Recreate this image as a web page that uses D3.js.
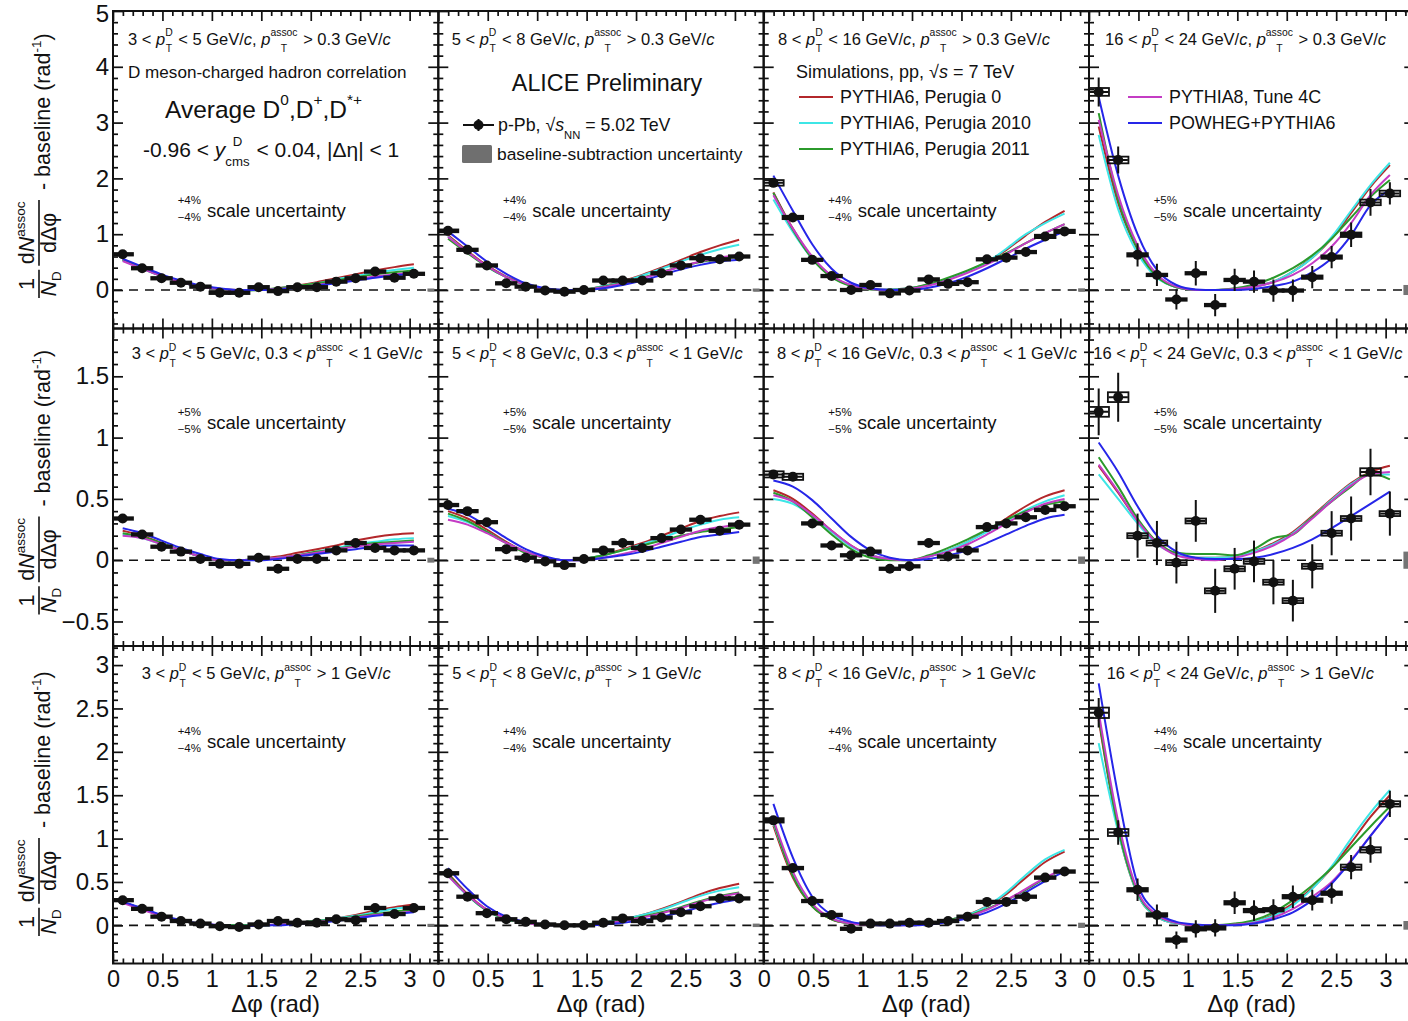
<!DOCTYPE html>
<html>
<head>
<meta charset="utf-8">
<script src="https://cdn.jsdelivr.net/npm/d3@7"></script>
<style>
  body { margin: 0; background: #fff; }
  svg { display: block; }
  text { white-space: pre; }
</style>
</head>
<body>
<svg id="chart" width="1408" height="1021"></svg>
<script>
// ---------------------------------------------------------------------------
// D meson - charged hadron azimuthal correlations, p-Pb 5.02 TeV,
// compared with pp MC simulations. Panels are ordered row by row:
// rows = associated-pT range, columns = D-meson pT range.
// ---------------------------------------------------------------------------

// Δφ bin centres (rad)
const dphi = [0.098, 0.295, 0.491, 0.687, 0.884, 1.080, 1.276, 1.473,
              1.669, 1.865, 2.062, 2.258, 2.454, 2.651, 2.847, 3.043];
const binHalf = 0.098;

const ptDBins = [["3", "5"], ["5", "8"], ["8", "16"], ["16", "24"]];
const scalePct = [4, 4, 4, 5,  5, 5, 5, 5,  4, 4, 4, 4];

// measured per-trigger yields after baseline subtraction
const measured = [
  [0.64, 0.39, 0.21, 0.13, 0.06, -0.05, -0.05, 0.05, -0.02, 0.05, 0.05, 0.15, 0.21, 0.33, 0.22, 0.29],
  [1.06, 0.72, 0.44, 0.12, 0.06, -0.01, -0.03, 0.00, 0.17, 0.17, 0.17, 0.30, 0.44, 0.57, 0.55, 0.60],
  [1.92, 1.30, 0.54, 0.25, 0.00, 0.09, -0.06, -0.01, 0.19, 0.11, 0.14, 0.55, 0.58, 0.68, 0.96, 1.05],
  [3.55, 2.33, 0.63, 0.27, -0.17, 0.30, -0.27, 0.18, 0.15, -0.01, -0.01, 0.23, 0.59, 0.99, 1.57, 1.73],
  [0.34, 0.21, 0.11, 0.07, 0.01, -0.03, -0.03, 0.02, -0.07, 0.01, 0.01, 0.08, 0.14, 0.10, 0.08, 0.08],
  [0.45, 0.40, 0.31, 0.09, 0.02, -0.01, -0.04, 0.01, 0.08, 0.14, 0.10, 0.18, 0.25, 0.33, 0.24, 0.29],
  [0.70, 0.68, 0.30, 0.12, 0.04, 0.07, -0.07, -0.05, 0.14, 0.03, 0.08, 0.27, 0.30, 0.35, 0.41, 0.44],
  [1.21, 1.33, 0.20, 0.14, -0.02, 0.32, -0.25, -0.07, -0.01, -0.18, -0.33, -0.05, 0.22, 0.34, 0.72, 0.38],
  [0.29, 0.19, 0.10, 0.05, 0.02, -0.01, -0.02, 0.01, 0.05, 0.03, 0.03, 0.07, 0.06, 0.20, 0.13, 0.20],
  [0.60, 0.33, 0.14, 0.07, 0.04, 0.01, 0.00, 0.00, 0.03, 0.08, 0.05, 0.09, 0.15, 0.22, 0.31, 0.31],
  [1.21, 0.66, 0.28, 0.12, -0.04, 0.02, 0.02, 0.03, 0.03, 0.05, 0.10, 0.27, 0.27, 0.33, 0.55, 0.62],
  [2.45, 1.07, 0.41, 0.12, -0.17, -0.04, -0.03, 0.26, 0.17, 0.18, 0.33, 0.29, 0.37, 0.67, 0.87, 1.40]
];

// statistical uncertainties
const statErr = [
  [0.03, 0.03, 0.03, 0.03, 0.03, 0.03, 0.03, 0.03, 0.03, 0.03, 0.03, 0.03, 0.03, 0.03, 0.03, 0.03],
  [0.04, 0.04, 0.04, 0.04, 0.04, 0.04, 0.04, 0.04, 0.04, 0.04, 0.04, 0.04, 0.04, 0.04, 0.04, 0.04],
  [0.07, 0.06, 0.06, 0.06, 0.06, 0.06, 0.06, 0.06, 0.06, 0.06, 0.06, 0.06, 0.06, 0.06, 0.06, 0.06],
  [0.26, 0.24, 0.21, 0.20, 0.18, 0.22, 0.20, 0.20, 0.20, 0.20, 0.20, 0.20, 0.20, 0.22, 0.24, 0.20],
  [0.02, 0.02, 0.02, 0.02, 0.02, 0.02, 0.02, 0.02, 0.02, 0.02, 0.02, 0.02, 0.02, 0.02, 0.02, 0.02],
  [0.02, 0.02, 0.02, 0.02, 0.02, 0.02, 0.02, 0.02, 0.02, 0.02, 0.02, 0.02, 0.02, 0.02, 0.02, 0.02],
  [0.03, 0.03, 0.03, 0.03, 0.03, 0.03, 0.03, 0.03, 0.03, 0.03, 0.03, 0.03, 0.03, 0.03, 0.03, 0.03],
  [0.19, 0.20, 0.18, 0.18, 0.17, 0.17, 0.18, 0.17, 0.17, 0.18, 0.17, 0.18, 0.18, 0.18, 0.19, 0.18],
  [0.02, 0.02, 0.02, 0.02, 0.02, 0.02, 0.02, 0.02, 0.02, 0.02, 0.02, 0.02, 0.02, 0.02, 0.02, 0.02],
  [0.02, 0.02, 0.02, 0.02, 0.02, 0.02, 0.02, 0.02, 0.02, 0.02, 0.02, 0.02, 0.02, 0.02, 0.02, 0.02],
  [0.04, 0.04, 0.04, 0.04, 0.04, 0.04, 0.04, 0.04, 0.04, 0.04, 0.04, 0.04, 0.04, 0.04, 0.04, 0.04],
  [0.17, 0.14, 0.13, 0.12, 0.10, 0.10, 0.10, 0.13, 0.12, 0.12, 0.13, 0.12, 0.12, 0.14, 0.15, 0.15]
];

// systematic uncertainties (boxes)
const systErr = [
  [0.02, 0.015, 0.01, 0.01, 0.01, 0.01, 0.01, 0.01, 0.01, 0.01, 0.01, 0.01, 0.01, 0.01, 0.01, 0.01],
  [0.025, 0.02, 0.015, 0.01, 0.01, 0.01, 0.01, 0.01, 0.01, 0.01, 0.01, 0.01, 0.015, 0.015, 0.015, 0.015],
  [0.05, 0.03, 0.02, 0.01, 0.01, 0.01, 0.01, 0.01, 0.01, 0.01, 0.01, 0.02, 0.02, 0.02, 0.03, 0.03],
  [0.07, 0.06, 0.03, 0.02, 0.02, 0.02, 0.02, 0.02, 0.02, 0.02, 0.02, 0.03, 0.03, 0.04, 0.05, 0.05],
  [0.01, 0.01, 0.01, 0.01, 0.01, 0.01, 0.01, 0.01, 0.01, 0.01, 0.01, 0.01, 0.01, 0.01, 0.01, 0.01],
  [0.01, 0.01, 0.01, 0.01, 0.01, 0.01, 0.01, 0.01, 0.01, 0.01, 0.01, 0.01, 0.01, 0.01, 0.01, 0.01],
  [0.025, 0.025, 0.01, 0.01, 0.01, 0.01, 0.01, 0.01, 0.01, 0.01, 0.01, 0.01, 0.01, 0.01, 0.01, 0.01],
  [0.04, 0.04, 0.02, 0.02, 0.02, 0.02, 0.02, 0.02, 0.02, 0.02, 0.02, 0.02, 0.02, 0.02, 0.03, 0.02],
  [0.01, 0.01, 0.01, 0.01, 0.01, 0.01, 0.01, 0.01, 0.01, 0.01, 0.01, 0.01, 0.01, 0.01, 0.01, 0.01],
  [0.015, 0.01, 0.01, 0.01, 0.01, 0.01, 0.01, 0.01, 0.01, 0.01, 0.01, 0.01, 0.01, 0.01, 0.01, 0.01],
  [0.025, 0.015, 0.01, 0.01, 0.01, 0.01, 0.01, 0.01, 0.01, 0.01, 0.01, 0.01, 0.01, 0.01, 0.015, 0.015],
  [0.06, 0.04, 0.02, 0.02, 0.02, 0.02, 0.02, 0.02, 0.02, 0.02, 0.02, 0.02, 0.02, 0.03, 0.03, 0.03]
];

// baseline-subtraction uncertainty (half height of the grey box)
const baselineUnc = [0.02, 0.02, 0.03, 0.09,  0.02, 0.03, 0.03, 0.07,  0.01, 0.02, 0.03, 0.05];

// MC predictions (pp, 7 TeV), at the Δφ bin centres
const perugia0 = [
  [0.55, 0.40, 0.26, 0.15, 0.07, 0.02, 0.00, 0.00, 0.03, 0.08, 0.14, 0.21, 0.28, 0.35, 0.41, 0.46],
  [0.98, 0.70, 0.44, 0.24, 0.10, 0.02, 0.00, 0.01, 0.07, 0.16, 0.27, 0.40, 0.54, 0.68, 0.80, 0.90],
  [1.75, 1.10, 0.58, 0.25, 0.08, 0.02, 0.01, 0.03, 0.10, 0.20, 0.33, 0.50, 0.72, 0.98, 1.22, 1.42],
  [2.93, 1.55, 0.72, 0.24, 0.05, 0.00, 0.00, 0.02, 0.06, 0.15, 0.33, 0.58, 0.92, 1.38, 1.85, 2.24],
  [0.24, 0.20, 0.14, 0.08, 0.03, 0.00, 0.00, 0.01, 0.03, 0.06, 0.09, 0.12, 0.16, 0.19, 0.21, 0.22],
  [0.40, 0.34, 0.25, 0.15, 0.07, 0.02, 0.00, 0.01, 0.04, 0.09, 0.14, 0.20, 0.26, 0.32, 0.36, 0.39],
  [0.57, 0.50, 0.38, 0.24, 0.12, 0.04, 0.01, 0.00, 0.03, 0.08, 0.15, 0.24, 0.34, 0.44, 0.52, 0.57],
  [0.77, 0.55, 0.32, 0.14, 0.05, 0.02, 0.02, 0.03, 0.07, 0.14, 0.23, 0.36, 0.50, 0.63, 0.72, 0.77],
  [0.27, 0.19, 0.11, 0.05, 0.02, 0.00, 0.00, 0.00, 0.01, 0.03, 0.05, 0.08, 0.12, 0.17, 0.21, 0.24],
  [0.60, 0.36, 0.18, 0.08, 0.03, 0.00, 0.00, 0.01, 0.03, 0.07, 0.12, 0.19, 0.27, 0.36, 0.43, 0.48],
  [1.15, 0.55, 0.22, 0.07, 0.02, 0.00, 0.00, 0.01, 0.03, 0.06, 0.12, 0.22, 0.36, 0.55, 0.73, 0.85],
  [2.37, 1.10, 0.36, 0.10, 0.02, 0.00, 0.00, 0.01, 0.04, 0.12, 0.25, 0.43, 0.66, 0.95, 1.25, 1.50]
];
const perugia2010 = [
  [0.53, 0.38, 0.25, 0.14, 0.06, 0.02, 0.00, 0.00, 0.03, 0.07, 0.12, 0.19, 0.25, 0.31, 0.36, 0.40],
  [0.96, 0.68, 0.42, 0.23, 0.09, 0.02, 0.00, 0.01, 0.07, 0.15, 0.26, 0.38, 0.51, 0.63, 0.73, 0.81],
  [1.62, 1.04, 0.56, 0.24, 0.08, 0.02, 0.01, 0.03, 0.10, 0.20, 0.33, 0.50, 0.74, 1.00, 1.20, 1.37],
  [2.78, 1.45, 0.66, 0.22, 0.05, 0.00, 0.00, 0.02, 0.06, 0.15, 0.33, 0.58, 0.95, 1.42, 1.88, 2.28],
  [0.21, 0.18, 0.13, 0.08, 0.03, 0.00, 0.00, 0.01, 0.02, 0.04, 0.07, 0.10, 0.13, 0.15, 0.17, 0.18],
  [0.36, 0.31, 0.23, 0.14, 0.07, 0.02, 0.00, 0.01, 0.04, 0.08, 0.13, 0.18, 0.24, 0.29, 0.33, 0.35],
  [0.50, 0.46, 0.36, 0.23, 0.11, 0.04, 0.01, 0.00, 0.03, 0.08, 0.15, 0.23, 0.32, 0.41, 0.48, 0.53],
  [0.70, 0.50, 0.30, 0.13, 0.05, 0.02, 0.02, 0.03, 0.07, 0.13, 0.22, 0.35, 0.49, 0.62, 0.70, 0.70],
  [0.27, 0.19, 0.11, 0.05, 0.02, 0.00, 0.00, 0.00, 0.01, 0.03, 0.05, 0.08, 0.11, 0.15, 0.19, 0.21],
  [0.58, 0.34, 0.17, 0.07, 0.03, 0.00, 0.00, 0.01, 0.03, 0.07, 0.12, 0.18, 0.26, 0.34, 0.40, 0.44],
  [1.18, 0.58, 0.23, 0.08, 0.02, 0.00, 0.00, 0.01, 0.03, 0.06, 0.12, 0.22, 0.38, 0.58, 0.76, 0.87],
  [2.10, 1.08, 0.36, 0.10, 0.02, 0.00, 0.00, 0.01, 0.04, 0.11, 0.23, 0.42, 0.68, 1.00, 1.30, 1.56]
];
const perugia2011 = [
  [0.54, 0.39, 0.25, 0.14, 0.06, 0.01, -0.01, 0.00, 0.03, 0.07, 0.12, 0.17, 0.23, 0.28, 0.32, 0.35],
  [0.92, 0.66, 0.42, 0.23, 0.09, 0.02, 0.00, 0.01, 0.06, 0.13, 0.22, 0.32, 0.42, 0.50, 0.56, 0.60],
  [1.74, 1.08, 0.56, 0.23, 0.07, 0.01, 0.00, 0.03, 0.11, 0.22, 0.35, 0.50, 0.66, 0.84, 1.02, 1.18],
  [3.17, 1.62, 0.74, 0.24, 0.05, 0.00, 0.00, 0.03, 0.10, 0.22, 0.39, 0.62, 0.92, 1.30, 1.67, 1.97],
  [0.22, 0.19, 0.14, 0.08, 0.03, 0.00, 0.00, 0.01, 0.02, 0.04, 0.07, 0.09, 0.12, 0.14, 0.15, 0.16],
  [0.38, 0.32, 0.23, 0.14, 0.06, 0.02, 0.00, 0.01, 0.04, 0.08, 0.12, 0.16, 0.20, 0.23, 0.25, 0.27],
  [0.55, 0.48, 0.35, 0.21, 0.09, 0.02, 0.00, 0.00, 0.04, 0.10, 0.17, 0.25, 0.33, 0.40, 0.45, 0.48],
  [0.84, 0.60, 0.34, 0.15, 0.06, 0.05, 0.05, 0.04, 0.09, 0.18, 0.21, 0.35, 0.48, 0.60, 0.71, 0.66],
  [0.27, 0.19, 0.11, 0.05, 0.02, 0.00, 0.00, 0.00, 0.01, 0.03, 0.05, 0.07, 0.10, 0.13, 0.16, 0.18],
  [0.59, 0.35, 0.17, 0.07, 0.03, 0.00, 0.00, 0.01, 0.03, 0.06, 0.10, 0.15, 0.21, 0.28, 0.34, 0.38],
  [1.20, 0.57, 0.22, 0.07, 0.02, 0.00, 0.00, 0.01, 0.03, 0.06, 0.11, 0.19, 0.29, 0.41, 0.54, 0.65],
  [2.40, 1.12, 0.38, 0.11, 0.03, 0.00, 0.00, 0.02, 0.06, 0.15, 0.29, 0.46, 0.66, 0.90, 1.14, 1.37]
];
const pythia8Tune4C = [
  [0.52, 0.38, 0.25, 0.14, 0.06, 0.02, 0.00, 0.00, 0.02, 0.05, 0.09, 0.14, 0.19, 0.24, 0.28, 0.31],
  [0.95, 0.68, 0.43, 0.23, 0.09, 0.02, 0.00, 0.01, 0.05, 0.12, 0.21, 0.31, 0.42, 0.51, 0.58, 0.63],
  [1.70, 1.10, 0.60, 0.26, 0.09, 0.02, 0.00, 0.02, 0.08, 0.18, 0.31, 0.46, 0.64, 0.84, 1.02, 1.18],
  [3.05, 1.70, 0.80, 0.28, 0.06, 0.00, 0.00, 0.02, 0.06, 0.14, 0.27, 0.48, 0.78, 1.20, 1.70, 2.06],
  [0.20, 0.18, 0.13, 0.08, 0.03, 0.00, 0.00, 0.01, 0.02, 0.04, 0.06, 0.09, 0.11, 0.13, 0.14, 0.15],
  [0.33, 0.29, 0.22, 0.14, 0.07, 0.02, 0.00, 0.00, 0.02, 0.05, 0.09, 0.14, 0.19, 0.24, 0.27, 0.29],
  [0.53, 0.48, 0.37, 0.24, 0.12, 0.04, 0.01, 0.00, 0.03, 0.07, 0.13, 0.21, 0.30, 0.39, 0.46, 0.50],
  [0.78, 0.56, 0.32, 0.14, 0.04, 0.01, 0.00, 0.02, 0.06, 0.12, 0.21, 0.34, 0.48, 0.61, 0.70, 0.72],
  [0.26, 0.18, 0.11, 0.05, 0.02, 0.00, -0.01, 0.00, 0.01, 0.02, 0.04, 0.06, 0.09, 0.12, 0.14, 0.16],
  [0.57, 0.35, 0.18, 0.08, 0.03, 0.00, 0.00, 0.00, 0.02, 0.05, 0.09, 0.14, 0.20, 0.27, 0.33, 0.37],
  [1.22, 0.62, 0.25, 0.08, 0.02, 0.00, 0.00, 0.00, 0.02, 0.05, 0.10, 0.18, 0.29, 0.42, 0.55, 0.65],
  [2.46, 1.20, 0.40, 0.12, 0.03, 0.00, 0.00, 0.01, 0.03, 0.09, 0.19, 0.33, 0.50, 0.75, 1.03, 1.31]
];
const powhegPythia6 = [
  [0.56, 0.42, 0.28, 0.17, 0.08, 0.03, 0.00, 0.00, 0.01, 0.04, 0.08, 0.12, 0.17, 0.22, 0.26, 0.29],
  [1.05, 0.78, 0.51, 0.29, 0.12, 0.03, 0.00, 0.00, 0.03, 0.09, 0.17, 0.27, 0.37, 0.45, 0.51, 0.54],
  [2.05, 1.42, 0.82, 0.38, 0.13, 0.03, 0.00, 0.00, 0.04, 0.12, 0.24, 0.39, 0.56, 0.74, 0.90, 1.05],
  [3.46, 2.05, 1.00, 0.36, 0.09, 0.01, 0.00, 0.00, 0.02, 0.07, 0.15, 0.32, 0.57, 0.98, 1.52, 1.80],
  [0.26, 0.22, 0.16, 0.10, 0.05, 0.01, 0.00, 0.00, 0.01, 0.03, 0.05, 0.07, 0.09, 0.11, 0.12, 0.12],
  [0.42, 0.37, 0.28, 0.18, 0.09, 0.03, 0.00, 0.00, 0.02, 0.04, 0.07, 0.11, 0.15, 0.19, 0.21, 0.23],
  [0.65, 0.60, 0.49, 0.34, 0.19, 0.08, 0.02, 0.00, 0.01, 0.04, 0.08, 0.14, 0.21, 0.28, 0.34, 0.37],
  [0.96, 0.72, 0.44, 0.20, 0.07, 0.02, 0.01, 0.01, 0.02, 0.05, 0.10, 0.17, 0.26, 0.36, 0.46, 0.56],
  [0.27, 0.20, 0.12, 0.06, 0.02, 0.00, -0.01, 0.00, 0.00, 0.02, 0.03, 0.05, 0.08, 0.11, 0.13, 0.15],
  [0.66, 0.42, 0.22, 0.10, 0.04, 0.01, 0.00, 0.00, 0.01, 0.03, 0.06, 0.10, 0.15, 0.21, 0.26, 0.30],
  [1.40, 0.78, 0.33, 0.12, 0.04, 0.01, 0.00, 0.00, 0.01, 0.04, 0.08, 0.15, 0.25, 0.38, 0.51, 0.62],
  [2.79, 1.50, 0.48, 0.15, 0.04, 0.01, 0.00, 0.00, 0.02, 0.07, 0.15, 0.29, 0.48, 0.74, 1.03, 1.31]
];

const models = [perugia0, perugia2010, perugia2011, pythia8Tune4C, powhegPythia6];
const modelNames = ["PYTHIA6, Perugia 0", "PYTHIA6, Perugia 2010", "PYTHIA6, Perugia 2011",
                    "PYTHIA8, Tune 4C", "POWHEG+PYTHIA6"];
const modelColors = ["#b3272b", "#3ee6e6", "#2b9a2b", "#c43cc4", "#2626e8"];

// ---------------------------------------------------------------------------
// layout
// ---------------------------------------------------------------------------
const FONT = "'Liberation Sans', Arial, Helvetica, sans-serif";
const frameX = [113, 438.3, 763.7, 1089];
const rowY = [11, 328.5, 646];
const panelW = 325.3, panelH = 317.5;
const xDomain = [0, 3.29];
const yDomains = [[-0.69, 5], [-0.70, 1.89], [-0.44, 3.22]];
const yMajorStep = [1, 0.5, 0.5], yMinorStep = [0.2, 0.1, 0.1];
const headerDx = [15, 13.4, 14.3, 16, 18.7, 13.7, 13.3, 4.3, 28.7, 14, 14, 17.7];
const headerBase = [34, 30.8, 33.3];
const scaleBase = [206, 100.8, 102.3];

const svg = d3.select("#chart").attr("font-family", FONT);

const meas = svg.append("text").attr("x", -2000).attr("y", -2000);
function tw(str, size, italic) {
  meas.attr("font-size", size).attr("font-style", italic ? "italic" : "normal").text(str);
  return meas.node().getComputedTextLength();
}
function txt(parent, x, y, s, size, italic, anchor) {
  return parent.append("text").attr("x", x).attr("y", y).attr("font-size", size)
    .attr("font-style", italic ? "italic" : null)
    .attr("text-anchor", anchor || null).attr("fill", "#111").text(s);
}
// inline text with italics, super/subscripts and stacked indices
function rich(parent, x, y, size, parts, anchor) {
  const small = size * 0.63, up = -size * 0.52, down = size * 0.45;
  const items = [];
  let cx = 0;
  parts.forEach(p => {
    if (typeof p === "string") { items.push({ t: p, x: cx, dy: 0, s: size }); cx += tw(p, size); }
    else if (p.i !== undefined) { items.push({ t: p.i, x: cx, dy: 0, s: size, it: true }); cx += tw(p.i, size, true); }
    else if (p.sup !== undefined && p.sub !== undefined) {
      const a = tw(p.sup, small), b = tw(p.sub, small), w = Math.max(a, b);
      items.push({ t: p.sup, x: cx + (w - a) / 2, dy: up, s: small });
      items.push({ t: p.sub, x: cx + (w - b) / 2, dy: down, s: small });
      cx += w + 1;
    } else if (p.sup !== undefined) { items.push({ t: p.sup, x: cx, dy: up, s: small }); cx += tw(p.sup, small); }
    else if (p.sub !== undefined) { items.push({ t: p.sub, x: cx, dy: down, s: small }); cx += tw(p.sub, small); }
  });
  const x0 = anchor === "middle" ? x - cx / 2 : (anchor === "end" ? x - cx : x);
  items.forEach(it => txt(parent, x0 + it.x, y + it.dy, it.t, it.s, it.it));
  return cx;
}
function steps(lo, hi, st) {
  const out = [];
  for (let n = Math.ceil(lo / st - 1e-9); n <= Math.floor(hi / st + 1e-9); n++) out.push(+(n * st).toFixed(4));
  return out;
}
const fmtX = v => String(+v.toFixed(1));
const fmtY = v => (v < 0 ? "\u2212" : "") + String(+Math.abs(v).toFixed(1));

function headerParts(r, c) {
  const [lo, hi] = ptDBins[c];
  const base = [`${lo} < `, { i: "p" }, { sup: "D", sub: "T" }, ` < ${hi} GeV/`, { i: "c" }, ", "];
  const pa = [{ i: "p" }, { sup: "assoc", sub: "T" }];
  if (r === 0) return base.concat(pa, [" > 0.3 GeV/", { i: "c" }]);
  if (r === 1) return base.concat(["0.3 < "], pa, [" < 1 GeV/", { i: "c" }]);
  return base.concat(pa, [" > 1 GeV/", { i: "c" }]);
}

const defs = svg.append("defs");

// ---------------------------------------------------------------------------
// panels
// ---------------------------------------------------------------------------
for (let k = 0; k < 12; k++) {
  const r = Math.floor(k / 4), c = k % 4;
  const x = d3.scaleLinear().domain(xDomain).range([0, panelW]);
  const y = d3.scaleLinear().domain(yDomains[r]).range([panelH, 0]);
  const g = svg.append("g").attr("transform", `translate(${frameX[c]},${rowY[r]})`);

  defs.append("clipPath").attr("id", "clip" + k)
    .append("rect").attr("width", panelW).attr("height", panelH);

  // ticks on all four sides, pointing inward
  const xMaj = steps(0, xDomain[1], 0.5);
  const xMin = steps(0, xDomain[1], 0.1).filter(v => !xMaj.includes(v));
  const yMaj = steps(yDomains[r][0], yDomains[r][1], yMajorStep[r]);
  const yMin = steps(yDomains[r][0], yDomains[r][1], yMinorStep[r]).filter(v => !yMaj.includes(v));
  const tickSets = [
    [d3.axisBottom(x), `translate(0,${panelH})`, xMaj, 10], [d3.axisBottom(x), `translate(0,${panelH})`, xMin, 5],
    [d3.axisTop(x), "translate(0,0)", xMaj, 10], [d3.axisTop(x), "translate(0,0)", xMin, 5],
    [d3.axisLeft(y), "translate(0,0)", yMaj, 10], [d3.axisLeft(y), "translate(0,0)", yMin, 5],
    [d3.axisRight(y), `translate(${panelW},0)`, yMaj, 10], [d3.axisRight(y), `translate(${panelW},0)`, yMin, 5]
  ];
  tickSets.forEach(([ax, tr, vals, len]) => {
    g.append("g").attr("transform", tr)
      .call(ax.tickValues(vals).tickSize(-len).tickFormat(""))
      .call(s => s.select(".domain").remove())
      .call(s => s.selectAll("line").attr("stroke", "#111").attr("stroke-width", 1.7));
  });

  // tick labels
  if (r === 2) {
    g.append("g").attr("transform", `translate(0,${panelH})`)
      .call(d3.axisBottom(x).tickValues(xMaj).tickSize(0).tickPadding(7).tickFormat(fmtX))
      .call(s => s.select(".domain").remove())
      .call(s => s.selectAll("text").attr("font-family", FONT).attr("font-size", 23.5).attr("fill", "#111"));
    txt(g, panelW / 2, panelH + 48, "\u0394\u03c6 (rad)", 24, false, "middle");
  }
  if (c === 0) {
    g.append("g")
      .call(d3.axisLeft(y).tickValues(yMaj).tickSize(0).tickPadding(4).tickFormat(fmtY))
      .call(s => s.select(".domain").remove())
      .call(s => s.selectAll("text").attr("font-family", FONT).attr("font-size", 24).attr("fill", "#111")
        .attr("dy", d => (y(d) < 12 ? "0.45em" : "0.32em")));
  }

  const plot = g.append("g").attr("clip-path", `url(#clip${k})`);

  // zero line
  plot.append("line").attr("x1", 0).attr("x2", panelW).attr("y1", y(0)).attr("y2", y(0))
    .attr("stroke", "#111").attr("stroke-width", 1.6).attr("stroke-dasharray", "9,7");

  // baseline-subtraction uncertainty
  const bh = Math.max(3, y(-baselineUnc[k]) - y(baselineUnc[k]));
  plot.append("rect").attr("x", x(3.18)).attr("width", x(3.25) - x(3.18))
    .attr("y", y(0) - bh / 2).attr("height", bh).attr("fill", "#747474");

  // model curves
  const line = d3.line().x((d, i) => x(dphi[i])).y(d => y(d)).curve(d3.curveMonotoneX);
  models.forEach((m, mi) => {
    plot.append("path").attr("d", line(m[k])).attr("fill", "none")
      .attr("stroke", modelColors[mi]).attr("stroke-width", 2);
  });

  // data points: systematic box, bin width, statistical bar, marker
  const pts = dphi.map((d, i) => ({ x: d, v: measured[k][i], s: statErr[k][i], e: systErr[k][i] }));
  const pg = plot.append("g");
  pts.forEach(d => {
    const yc = y(d.v);
    const h = Math.max(2.5, y(d.v - d.e) - y(d.v + d.e));
    pg.append("rect").attr("x", x(d.x - 0.104)).attr("width", x(0.208) - x(0))
      .attr("y", yc - h / 2).attr("height", h)
      .attr("fill", h < 4.5 ? "#111" : "none").attr("stroke", "#111").attr("stroke-width", 1.8);
    pg.append("line").attr("x1", x(d.x - binHalf)).attr("x2", x(d.x + binHalf))
      .attr("y1", yc).attr("y2", yc).attr("stroke", "#111").attr("stroke-width", 2);
    pg.append("line").attr("x1", x(d.x)).attr("x2", x(d.x))
      .attr("y1", y(d.v - d.s)).attr("y2", y(d.v + d.s)).attr("stroke", "#111").attr("stroke-width", 2);
    pg.append("circle").attr("cx", x(d.x)).attr("cy", yc).attr("r", 5).attr("fill", "#111");
  });

  // frame
  g.append("rect").attr("width", panelW).attr("height", panelH)
    .attr("fill", "none").attr("stroke", "#111").attr("stroke-width", 2);

  // kinematic range
  rich(g, headerDx[k], headerBase[r], 16.5, headerParts(r, c));

  // scale uncertainty note
  const sb = scaleBase[r];
  txt(g, 94, sb, "scale uncertainty", 18.5);
  txt(g, 88, sb - 13, `+${scalePct[k]}%`, 11.5, false, "end");
  txt(g, 88, sb + 4, `\u2212${scalePct[k]}%`, 11.5, false, "end");
}

// ---------------------------------------------------------------------------
// descriptive text and legends
// ---------------------------------------------------------------------------
txt(svg, 128, 78, "D meson-charged hadron correlation", 17.1);
rich(svg, 165, 118, 24.5, ["Average D", { sup: "0" }, ",D", { sup: "+" }, ",D", { sup: "*+" }]);
rich(svg, 143, 157, 21, ["-0.96 < ", { i: "y" }, { sup: "D", sub: "cms" }, " < 0.04, |\u0394\u03b7| < 1"]);

txt(svg, 607, 91, "ALICE Preliminary", 23.3, false, "middle");

// data legend entry
const lg = svg.append("g");
lg.append("line").attr("x1", 463).attr("x2", 494).attr("y1", 125).attr("y2", 125).attr("stroke", "#111").attr("stroke-width", 2);
lg.append("line").attr("x1", 478.5).attr("x2", 478.5).attr("y1", 119).attr("y2", 131).attr("stroke", "#111").attr("stroke-width", 2);
lg.append("circle").attr("cx", 478.5).attr("cy", 125).attr("r", 5).attr("fill", "#111");
rich(svg, 498, 131, 17.8, ["p-Pb, \u221a", { i: "s" }, { sub: "NN" }, " = 5.02 TeV"]);
lg.append("rect").attr("x", 462).attr("y", 145).attr("width", 30).attr("height", 18).attr("rx", 1.5).attr("fill", "#6f6f6f");
txt(svg, 497, 160, "baseline-subtraction uncertainty", 17.4);

// simulation legend
rich(svg, 796, 78, 18, ["Simulations, pp, \u221a", { i: "s" }, " = 7 TeV"]);
const legendPos = [[799, 97], [799, 123], [799, 149], [1128, 97], [1128, 123]];
modelNames.forEach((name, i) => {
  const [lx, ly] = legendPos[i];
  svg.append("line").attr("x1", lx).attr("x2", lx + 34).attr("y1", ly).attr("y2", ly)
    .attr("stroke", modelColors[i]).attr("stroke-width", 2.2);
  txt(svg, lx + 41, ly + 6, name, 17.9);
});

// y-axis titles: 1/N_D dN^assoc/dΔφ - baseline (rad^-1)
function yTitle(cy) {
  const fs = 21.5, sm = 13.5;
  const g = svg.append("g").attr("transform", `translate(39,${cy}) rotate(-90)`);
  const wN = tw("N", fs, true), wD = tw("D", sm), w1 = tw("1", fs);
  const f1 = Math.max(w1, wN + wD) + 3;
  const wd = tw("d", fs), wAs = tw("assoc", sm), wDen = tw("d\u0394\u03c6", fs);
  const f2 = Math.max(wd + wN + wAs, wDen) + 3;
  const tail = " - baseline (rad", wT = tw(tail, fs), wM = tw("-1", sm);
  const wP = tw(")", fs);
  const gap = 4;
  const total = f1 + gap + f2 + gap + wT + wM + wP;
  let x0 = -total / 2;
  const numY = -5, denY = 17, midY = 11;
  const bar = (a, b) => g.append("line").attr("x1", a).attr("x2", b).attr("y1", 0).attr("y2", 0)
    .attr("stroke", "#111").attr("stroke-width", 1.6);
  txt(g, x0 + f1 / 2 - w1 / 2, numY, "1", fs);
  const dx1 = x0 + f1 / 2 - (wN + wD) / 2;
  txt(g, dx1, denY, "N", fs, true);
  txt(g, dx1 + wN, denY + 5, "D", sm);
  bar(x0, x0 + f1);
  x0 += f1 + gap;
  const nx = x0 + f2 / 2 - (wd + wN + wAs) / 2;
  txt(g, nx, numY, "d", fs);
  txt(g, nx + wd, numY, "N", fs, true);
  txt(g, nx + wd + wN, numY - 9, "assoc", sm);
  txt(g, x0 + f2 / 2 - wDen / 2, denY, "d\u0394\u03c6", fs);
  bar(x0, x0 + f2);
  x0 += f2 + gap;
  txt(g, x0, midY, tail, fs);
  txt(g, x0 + wT, midY - 9, "-1", sm);
  txt(g, x0 + wT + wM, midY, ")", fs);
}
[-4, -5, -1].forEach((off, r) => yTitle(rowY[r] + panelH / 2 + off));

meas.remove();
</script>
</body>
</html>
